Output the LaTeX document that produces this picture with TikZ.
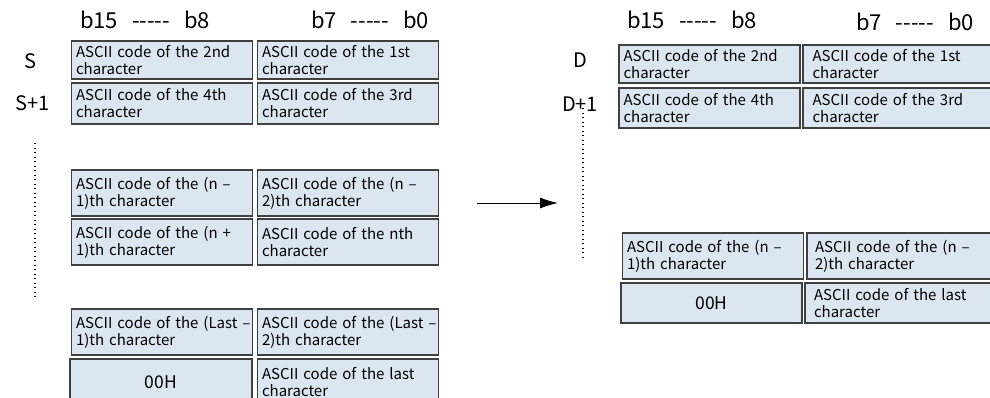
\documentclass[tikz,border=0pt]{standalone}
\usepackage{fontspec}
\setmainfont{Noto Sans CJK SC}
\usepackage{xcolor}
\usepackage{tikz}
\usetikzlibrary{arrows.meta,positioning}
\definecolor{CellBlue}{HTML}{DCE6F1}
\definecolor{EdgeGrey}{HTML}{404040}
\newcommand{\bitrange}[2]{#1\hspace{14pt}{-}{-}{-}{-}{-}\hspace{14pt}#2}

\begin{document}
\begin{tikzpicture}[x=1pt,y=-1pt,
  cell/.style={draw=EdgeGrey,fill=CellBlue,line width=1.1pt,minimum width=181pt,
    text width=172pt,align=left,inner xsep=4.5pt,inner ysep=1pt,
    font=\fontsize{15}{17}\selectfont},
  zero/.style={cell,align=center,font=\fontsize{17.5}{20}\selectfont},
  bits/.style={font=\fontsize{22}{24}\selectfont,anchor=base},
  reg/.style={font=\fontsize{20}{22}\selectfont},
  dots/.style={line width=1.3pt,dash pattern=on 1.3pt off 3.2pt}]
\useasboundingbox (0,0) rectangle (990,397);
\begin{scope}
  \node[bits] (hiS) at (145,28) {\bitrange{b15}{b8}};
  \node[bits] (loS) at (370,28) {\bitrange{b7}{b0}};
  \node[reg] (S) at (30,61) {S};
  \node[reg] (S1) at (33,103) {S+1};
  \node[cell,minimum height=38pt] (s1h) at (162,60) {ASCII code of the 2nd\\character};
  \node[cell,minimum height=38pt] (s1l) at (348,60) {ASCII code of the 1st\\character};
  \node[cell,minimum height=41pt] (s2h) at (162,103.5) {ASCII code of the 4th\\character};
  \node[cell,minimum height=41pt] (s2l) at (348,103.5) {ASCII code of the 3rd\\character};
  \node[cell,minimum height=46pt] (s3h) at (162,193) {ASCII code of the (n --\\1)th character};
  \node[cell,minimum height=46pt] (s3l) at (348,193) {ASCII code of the (n --\\2)th character};
  \node[cell,minimum height=46pt] (s4h) at (162,242) {ASCII code of the (n +\\1)th character};
  \node[cell,minimum height=46pt] (s4l) at (348,242) {ASCII code of the nth\\character};
  \node[cell,minimum height=46pt] (s5h) at (162,332) {\mbox{ASCII code of the (Last --}\\1)th character};
  \node[cell,minimum height=46pt] (s5l) at (348,332) {\mbox{ASCII code of the (Last --}\\2)th character};
  \node[zero,minimum width=182pt,minimum height=46pt] (s6h) at (161,382) {00H};
  \node[cell,minimum height=46pt] (s6l) at (348,382) {ASCII code of the last\\character\\[10pt]};
  \coordinate (sTop) at (35,143);
  \coordinate (sBot) at (35,297);
  \draw[dots] (sTop) -- (sBot);
\end{scope}
\coordinate (arrS) at (477,203);
\coordinate (arrE) at (558,203);
\draw[line width=1pt,-{Latex[length=18pt,width=11pt]}] (arrS) -- (arrE);
\begin{scope}
  \node[bits] (hiD) at (692,28) {\bitrange{b15}{b8}};
  \node[bits] (loD) at (915,30) {\bitrange{b7}{b0}};
  \node[reg] (D) at (580,60) {D};
  \node[reg] (D1) at (580,104) {D+1};
  \node[cell,minimum height=38pt] (d1h) at (709.5,64) {ASCII code of the 2nd\\character};
  \node[cell,minimum width=191pt,minimum height=38pt] (d1l) at (898.5,64) {ASCII code of the 1st\\character};
  \node[cell,minimum height=40pt] (d2h) at (709.5,108) {ASCII code of the 4th\\character};
  \node[cell,minimum width=191pt,minimum height=40pt] (d2l) at (898.5,108) {ASCII code of the 3rd\\character};
  \node[cell,minimum width=180pt,minimum height=46pt] (d3h) at (713,256) {ASCII code of the (n --\\1)th character};
  \node[cell,minimum width=188pt,minimum height=46pt] (d3l) at (901,256) {ASCII code of the (n --\\2)th character};
  \node[zero,minimum width=179pt,minimum height=40pt] (d4h) at (711.5,303) {00H};
  \node[cell,minimum width=190pt,minimum height=40pt] (d4l) at (900,303) {ASCII code of the last\\character};
  \coordinate (dTop) at (583,108);
  \coordinate (dBot) at (583,257);
  \draw[dots] (dTop) -- (dBot);
\end{scope}
\end{tikzpicture}
\end{document}
